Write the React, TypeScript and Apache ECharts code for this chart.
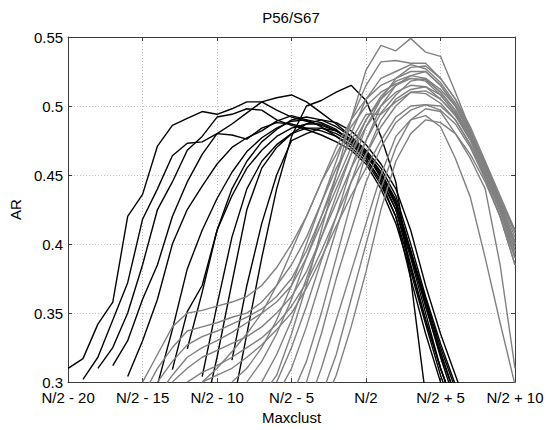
import React, { useEffect, useRef } from 'react';
import * as echarts from 'echarts';

// x positions: offset from N/2 (integer steps)
const xTickValues = [-20, -15, -10, -5, 0, 5, 10];
const xTickLabels = ['N/2 - 20', 'N/2 - 15', 'N/2 - 10', 'N/2 - 5', 'N/2', 'N/2 + 5', 'N/2 + 10'];
const yTickValues = [0.3, 0.35, 0.4, 0.45, 0.5, 0.55];
const yTickLabels = ['0.3', '0.35', '0.4', '0.45', '0.5', '0.55'];

// black curves: first x of each curve, then AR values at consecutive integer steps
const blackStarts = [-20, -19, -18, -17, -16, -14, -13, -12, -11, -11, -9, -9];
const black01 = [0.310, 0.317, 0.342, 0.358, 0.420, 0.436, 0.471, 0.486, 0.491, 0.496, 0.494, 0.498, 0.503, 0.503, 0.497, 0.492, 0.489, 0.486, 0.482, 0.476, 0.466, 0.452, 0.432, 0.395, 0.355, 0.318, 0.285];
const black02 = [0.302, 0.318, 0.345, 0.372, 0.418, 0.440, 0.464, 0.473, 0.474, 0.480, 0.479, 0.476, 0.484, 0.488, 0.487, 0.484, 0.482, 0.478, 0.472, 0.462, 0.446, 0.425, 0.390, 0.350, 0.310, 0.280];
const black03 = [0.310, 0.325, 0.350, 0.385, 0.425, 0.445, 0.468, 0.478, 0.492, 0.494, 0.498, 0.497, 0.490, 0.486, 0.483, 0.479, 0.474, 0.468, 0.458, 0.440, 0.415, 0.380, 0.342, 0.305, 0.275];
const black04 = [0.312, 0.330, 0.360, 0.385, 0.420, 0.445, 0.465, 0.480, 0.487, 0.495, 0.503, 0.506, 0.508, 0.503, 0.495, 0.487, 0.478, 0.466, 0.448, 0.425, 0.385, 0.345, 0.310, 0.280];
const black05 = [0.304, 0.330, 0.360, 0.400, 0.425, 0.442, 0.458, 0.470, 0.477, 0.482, 0.489, 0.493, 0.490, 0.485, 0.478, 0.470, 0.460, 0.443, 0.420, 0.375, 0.335, 0.300, 0.270];
const black06 = [0.298, 0.338, 0.382, 0.410, 0.433, 0.452, 0.467, 0.477, 0.484, 0.489, 0.490, 0.488, 0.483, 0.474, 0.462, 0.445, 0.420, 0.383, 0.345, 0.310, 0.280];
const black07 = [0.309, 0.351, 0.370, 0.410, 0.435, 0.455, 0.468, 0.478, 0.484, 0.487, 0.487, 0.482, 0.475, 0.465, 0.450, 0.430, 0.395, 0.360, 0.325, 0.295, 0.270];
const black08 = [0.324, 0.365, 0.410, 0.440, 0.460, 0.474, 0.483, 0.490, 0.492, 0.490, 0.485, 0.478, 0.468, 0.455, 0.435, 0.400, 0.362, 0.328, 0.298, 0.270];
const black09 = [0.304, 0.356, 0.405, 0.440, 0.460, 0.472, 0.480, 0.484, 0.484, 0.480, 0.474, 0.464, 0.450, 0.428, 0.392, 0.355, 0.320, 0.290];
const black10 = [0.270, 0.318, 0.372, 0.425, 0.455, 0.470, 0.480, 0.487, 0.490, 0.488, 0.482, 0.472, 0.458, 0.440, 0.410, 0.370, 0.335, 0.305, 0.275];
const black11 = [0.316, 0.370, 0.415, 0.450, 0.475, 0.480, 0.484, 0.482, 0.476, 0.467, 0.452, 0.430, 0.395, 0.358, 0.322, 0.290];
const black12 = [0.280, 0.335, 0.390, 0.440, 0.478, 0.500, 0.504, 0.510, 0.515, 0.504, 0.478, 0.445, 0.375, 0.290];
const blackLines = [black01, black02, black03, black04, black05, black06, black07, black08, black09, black10, black11, black12];

// grey curves
const grayStarts = [-15, -15, -14, -14, -13, -12, -11, -11, -9, -8, -7, -7, -6, -6, -5, -5, -4, -3, -3];
const gray01 = [0.300, 0.320, 0.340, 0.350, 0.352, 0.355, 0.358, 0.362, 0.370, 0.383, 0.400, 0.420, 0.445, 0.465, 0.485, 0.500, 0.510, 0.516, 0.520, 0.518, 0.508, 0.495, 0.478, 0.455, 0.430, 0.400];
const gray02 = [0.290, 0.310, 0.325, 0.337, 0.340, 0.343, 0.347, 0.350, 0.358, 0.370, 0.385, 0.405, 0.430, 0.455, 0.475, 0.494, 0.494, 0.503, 0.510, 0.511, 0.505, 0.494, 0.476, 0.452, 0.425, 0.395];
const gray03 = [0.300, 0.315, 0.327, 0.333, 0.337, 0.342, 0.347, 0.353, 0.362, 0.375, 0.395, 0.420, 0.445, 0.470, 0.490, 0.505, 0.515, 0.522, 0.525, 0.515, 0.500, 0.480, 0.458, 0.432, 0.405];
const gray04 = [0.290, 0.305, 0.318, 0.325, 0.330, 0.336, 0.343, 0.350, 0.358, 0.370, 0.390, 0.415, 0.440, 0.465, 0.485, 0.500, 0.510, 0.515, 0.514, 0.505, 0.493, 0.475, 0.450, 0.423, 0.392];
const gray05 = [0.300, 0.310, 0.318, 0.323, 0.328, 0.333, 0.340, 0.350, 0.362, 0.380, 0.405, 0.430, 0.455, 0.475, 0.495, 0.508, 0.518, 0.520, 0.510, 0.497, 0.478, 0.455, 0.428, 0.400];
const gray06 = [0.300, 0.307, 0.312, 0.318, 0.325, 0.332, 0.342, 0.355, 0.372, 0.395, 0.420, 0.445, 0.465, 0.485, 0.500, 0.510, 0.509, 0.502, 0.490, 0.472, 0.450, 0.425, 0.390];
const gray07 = [0.300, 0.305, 0.310, 0.318, 0.327, 0.338, 0.350, 0.368, 0.390, 0.413, 0.435, 0.455, 0.475, 0.492, 0.500, 0.501, 0.497, 0.487, 0.470, 0.447, 0.420, 0.385];
const gray08 = [0.300, 0.310, 0.322, 0.335, 0.350, 0.370, 0.395, 0.420, 0.445, 0.470, 0.490, 0.505, 0.515, 0.520, 0.528, 0.529, 0.520, 0.505, 0.485, 0.460, 0.435, 0.410];
const gray09 = [0.300, 0.310, 0.325, 0.345, 0.370, 0.400, 0.430, 0.460, 0.490, 0.515, 0.532, 0.533, 0.531, 0.531, 0.520, 0.505, 0.482, 0.458, 0.433, 0.408];
const gray10 = [0.300, 0.315, 0.335, 0.360, 0.390, 0.420, 0.450, 0.480, 0.505, 0.520, 0.525, 0.530, 0.527, 0.517, 0.502, 0.482, 0.457, 0.430, 0.402];
const gray11 = [0.290, 0.305, 0.335, 0.370, 0.410, 0.450, 0.490, 0.526, 0.544, 0.540, 0.549, 0.539, 0.536, 0.510, 0.483, 0.458, 0.432, 0.410];
const gray12 = [0.300, 0.320, 0.345, 0.375, 0.405, 0.435, 0.465, 0.490, 0.507, 0.518, 0.522, 0.520, 0.512, 0.500, 0.480, 0.456, 0.430, 0.400];
const gray13 = [0.290, 0.310, 0.340, 0.375, 0.410, 0.445, 0.475, 0.500, 0.515, 0.520, 0.519, 0.510, 0.497, 0.478, 0.455, 0.430, 0.400];
const gray14 = [0.300, 0.325, 0.355, 0.388, 0.420, 0.455, 0.485, 0.505, 0.520, 0.525, 0.525, 0.515, 0.500, 0.480, 0.455, 0.428, 0.398];
const gray15 = [0.290, 0.315, 0.350, 0.390, 0.430, 0.465, 0.490, 0.505, 0.512, 0.514, 0.508, 0.495, 0.476, 0.452, 0.427, 0.395];
const gray16 = [0.280, 0.300, 0.335, 0.375, 0.410, 0.445, 0.470, 0.488, 0.497, 0.501, 0.500, 0.490, 0.472, 0.448, 0.420, 0.390];
const gray17 = [0.280, 0.310, 0.345, 0.380, 0.415, 0.450, 0.478, 0.490, 0.493, 0.485, 0.462, 0.434, 0.390, 0.343, 0.298];
const gray18 = [0.290, 0.320, 0.360, 0.400, 0.440, 0.470, 0.490, 0.498, 0.496, 0.480, 0.462, 0.440, 0.385, 0.310];
const gray19 = [0.280, 0.305, 0.340, 0.380, 0.425, 0.460, 0.480, 0.490, 0.488, 0.480, 0.465, 0.445, 0.420, 0.385];
const grayLines = [gray01, gray02, gray03, gray04, gray05, gray06, gray07, gray08, gray09, gray10, gray11, gray12, gray13, gray14, gray15, gray16, gray17, gray18, gray19];

const FONT = '"Liberation Sans", Arial, Helvetica, sans-serif';

function toPoints(start: number, values: number[]) {
  return values.map((v, i) => [start + i, v]);
}

export default function App() {
  const ref = useRef<HTMLDivElement>(null);

  useEffect(() => {
    document.body.style.margin = '0';
    if (!ref.current) return;
    const chart = echarts.init(ref.current, undefined, { renderer: 'svg' });

    const lineSeries = (data: number[][], color: string) => ({
      type: 'line',
      data,
      xAxisIndex: 0,
      yAxisIndex: 0,
      showSymbol: false,
      symbol: 'none',
      silent: true,
      clip: true,
      lineStyle: { color, width: 1.4 },
      emphasis: { disabled: true },
    });

    const series: any[] = [];
    blackLines.forEach((vals, i) => series.push(lineSeries(toPoints(blackStarts[i], vals), '#000000')));
    grayLines.forEach((vals, i) => series.push(lineSeries(toPoints(grayStarts[i], vals), '#808080')));

    const axisLine = { show: true, onZero: false, lineStyle: { color: '#3a3a3a', width: 1 } };
    const tick = { show: true, inside: true, length: 4, lineStyle: { color: '#3a3a3a', width: 1 } };
    const grid = { show: true, lineStyle: { color: '#bdbdbd', type: [1, 2], width: 1 } };

    chart.setOption({
      animation: false,
      backgroundColor: '#ffffff',
      grid: { left: 68, right: 32, top: 37, bottom: 41 },
      graphic: [
        {
          type: 'text',
          x: 291,
          y: 10,
          style: { text: 'P56/S67', textAlign: 'center', fontSize: 15, fontFamily: FONT, fill: '#000' },
        },
      ],
      xAxis: [
        {
          type: 'value',
          position: 'bottom',
          min: -20,
          max: 10,
          interval: 5,
          name: 'Maxclust',
          nameLocation: 'middle',
          nameGap: 27,
          nameTextStyle: { fontSize: 15, fontFamily: FONT, color: '#000' },
          axisLine,
          axisTick: tick,
          splitLine: grid,
          axisLabel: {
            margin: 9,
            fontSize: 15,
            lineHeight: 13,
            fontFamily: FONT,
            color: '#000',
            formatter: (v: number) => {
              const i = xTickValues.indexOf(Math.round(v));
              return i >= 0 ? xTickLabels[i] : '';
            },
          },
        },
        {
          type: 'value',
          position: 'top',
          min: -20,
          max: 10,
          interval: 5,
          axisLine,
          axisTick: tick,
          splitLine: { show: false },
          axisLabel: { show: false },
        },
      ],
      yAxis: [
        {
          type: 'value',
          position: 'left',
          min: 0.3,
          max: 0.55,
          interval: 0.05,
          name: 'AR',
          nameLocation: 'middle',
          nameGap: 43,
          nameTextStyle: { fontSize: 15, fontFamily: FONT, color: '#000' },
          axisLine,
          axisTick: tick,
          splitLine: grid,
          axisLabel: {
            margin: 5,
            fontSize: 15,
            lineHeight: 11,
            fontFamily: FONT,
            color: '#000',
            formatter: (v: number) => {
              const i = yTickValues.findIndex((t) => Math.abs(t - v) < 1e-6);
              return i >= 0 ? yTickLabels[i] : '';
            },
          },
        },
        {
          type: 'value',
          position: 'right',
          min: 0.3,
          max: 0.55,
          interval: 0.05,
          axisLine,
          axisTick: tick,
          splitLine: { show: false },
          axisLabel: { show: false },
        },
      ],
      series,
    });

    return () => chart.dispose();
  }, []);

  return <div ref={ref} style={{ width: 547, height: 430 }} />;
}
